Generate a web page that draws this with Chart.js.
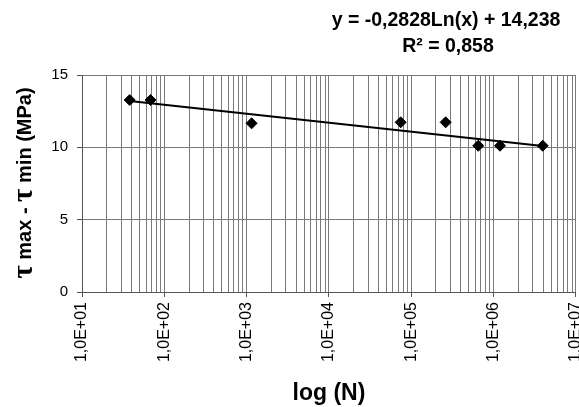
<!DOCTYPE html>
<html>
<head>
<meta charset="utf-8">
<script src="https://cdn.jsdelivr.net/npm/chart.js@4.4.1/dist/chart.umd.min.js"></script>
<style>
  html, body { margin: 0; padding: 0; background: #fff; overflow: hidden; }
  #wrap { position: relative; width: 600px; height: 407px; }
</style>
</head>
<body>
<div id="wrap"><canvas id="chart"></canvas></div>
<script>
// measured points: cycles N and stress range (MPa)
var cycles = [38, 68, 1150, 74500, 262000, 653000, 1200000, 3960000];
var stressRange = [13.27, 13.27, 11.66, 11.73, 11.73, 10.11, 10.11, 10.11];

// log trendline as drawn (start / end)
var trendN = [38, 3960000];
var trendY = [13.2, 10.1];

var xTickLabels = ["1,0E+01", "1,0E+02", "1,0E+03", "1,0E+04", "1,0E+05", "1,0E+06", "1,0E+07"];
var yTicks = [0, 5, 10, 15];

var equationLines = ["y = -0,2828Ln(x) + 14,238", "R² = 0,858"];
var yTitleParts = [
  { t: "τ", tau: true },
  { t: " max - ", tau: false },
  { t: "τ", tau: true },
  { t: " min (MPa)", tau: false },
];

var FONT = "'Liberation Sans', Arial, sans-serif";

function isDecade(v) {
  var l = Math.log10(v);
  return Math.abs(l - Math.round(l)) < 1e-9;
}

var pointsData = cycles.map(function (n, i) {
  return { x: n, y: stressRange[i] };
});
var trendData = trendN.map(function (n, i) {
  return { x: n, y: trendY[i] };
});

var textPlugin = {
  id: "textPlugin",
  afterDraw: function (chart) {
    var c = chart.ctx;
    c.save();
    c.fillStyle = "#000";
    c.textAlign = "center";
    c.textBaseline = "middle";
    c.font = "bold 19.5px " + FONT;
    c.fillText(equationLines[0], 446, 21);
    c.fillText(equationLines[1], 448, 47);

    // y axis title with bigger tau glyphs
    var parts = yTitleParts.map(function (p) {
      var f = p.tau ? "bold 29px 'Liberation Serif', serif" : "bold 20px " + FONT;
      c.font = f;
      return { t: p.t, f: f, w: c.measureText(p.t).width };
    });
    var total = parts.reduce(function (s, p) { return s + p.w; }, 0);
    c.translate(25, 183);
    c.rotate(-Math.PI / 2);
    c.textAlign = "left";
    c.textBaseline = "middle";
    var x = -total / 2;
    parts.forEach(function (p) {
      c.font = p.f;
      c.fillText(p.t, x, 0);
      x += p.w;
    });
    c.restore();
  },
};

new Chart(document.getElementById("chart"), {
  type: "scatter",
  data: {
    datasets: [
      {
        label: "trend",
        type: "line",
        data: trendData,
        borderColor: "#000",
        borderWidth: 2,
        pointRadius: 0,
        fill: false,
        order: 1,
      },
      {
        label: "data",
        data: pointsData,
        pointStyle: "rectRot",
        pointRadius: 5.5,
        backgroundColor: "#000",
        borderColor: "#000",
        order: 0,
      },
    ],
  },
  options: {
    responsive: true,
    maintainAspectRatio: false,
    animation: false,
    layout: { padding: { top: 75, left: 40, right: 0, bottom: 0 } },
    plugins: {
      legend: { display: false },
      tooltip: { enabled: false },
    },
    scales: {
      x: {
        type: "logarithmic",
        min: 10,
        max: 10000000,
        afterBuildTicks: function (scale) {
          var ticks = [];
          for (var e = 1; e < 7; e++) {
            for (var m = 1; m < 10; m++) {
              var v = m * Math.pow(10, e);
              ticks.push({ value: v, major: m === 1 });
            }
          }
          ticks.push({ value: 10000000, major: true });
          scale.ticks = ticks;
        },
        afterFit: function (scale) {
          scale.height = 115;
        },
        ticks: {
          autoSkip: false,
          minRotation: 90,
          maxRotation: 90,
          padding: 5,
          color: "#000",
          font: { family: FONT, size: 16 },
          callback: function (value) {
            if (!isDecade(value)) return "";
            return xTickLabels[Math.round(Math.log10(value)) - 1];
          },
        },
        grid: {
          color: "#7a7a7a",
          lineWidth: 1,
          tickLength: 5,
          tickColor: function (ctx) {
            return ctx.tick && isDecade(ctx.tick.value) ? "#555" : "rgba(0,0,0,0)";
          },
        },
        border: { color: "#555", width: 1 },
        title: {
          display: true,
          text: "log (N)",
          color: "#000",
          font: { family: FONT, size: 23, weight: "bold" },
          padding: { top: 0, bottom: 0 },
        },
      },
      y: {
        min: 0,
        max: 15,
        afterBuildTicks: function (scale) {
          scale.ticks = yTicks.map(function (v) { return { value: v }; });
        },
        afterFit: function (scale) {
          scale.width = 42;
        },
        ticks: {
          padding: 9,
          color: "#000",
          font: { family: FONT, size: 15 },
        },
        grid: {
          color: "#7a7a7a",
          lineWidth: 1,
          tickLength: 5,
          tickColor: "#555",
        },
        border: { color: "#555", width: 1 },
      },
    },
  },
  plugins: [textPlugin],
});
</script>
</body>
</html>
